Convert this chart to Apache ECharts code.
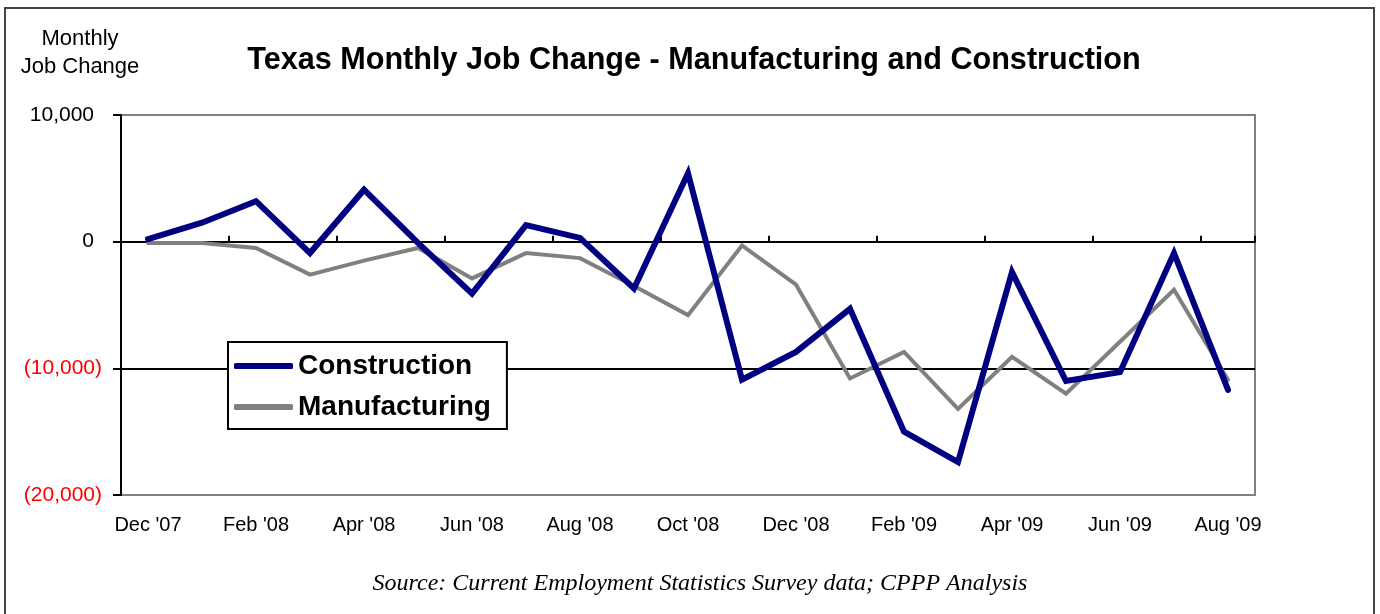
<!DOCTYPE html>
<html>
<head>
<meta charset="utf-8">
<script src="https://cdn.jsdelivr.net/npm/echarts@6/dist/echarts.min.js"></script>
<style>
  html, body { margin: 0; padding: 0; background: #fff; }
  #chart { width: 1380px; height: 614px; }
</style>
</head>
<body>
<div id="chart"></div>
<script>
// Monthly job change in Texas, Dec 2007 - Aug 2009
const months = ["Dec '07", "Jan '08", "Feb '08", "Mar '08", "Apr '08", "May '08", "Jun '08",
  "Jul '08", "Aug '08", "Sep '08", "Oct '08", "Nov '08", "Dec '08", "Jan '09", "Feb '09",
  "Mar '09", "Apr '09", "May '09", "Jun '09", "Jul '09", "Aug '09"];
const construction = [200, 1500, 3200, -900, 4100, -100, -4100, 1300, 300, -3700, 5400,
  -10900, -8700, -5300, -15000, -17400, -2400, -11000, -10300, -900, -11700];
const manufacturing = [-100, -100, -500, -2600, -1500, -500, -2900, -900, -1300, -3500, -5800,
  -300, -3400, -10800, -8700, -13200, -9100, -12000, -7900, -3800, -10900];
const yTicks = { min: -20000, max: 10000, step: 10000 };

const FONT = 'Liberation Sans, Arial, sans-serif';

function fmtThousands(v) {
  const s = Math.abs(v).toString().replace(/\B(?=(\d{3})+(?!\d))/g, ',');
  return v < 0 ? '{neg|(' + s + ')}' : '{pos|' + s + '}';
}

const chart = echarts.init(document.getElementById('chart'), null, { renderer: 'canvas' });

chart.setOption({
  backgroundColor: '#ffffff',
  animation: false,
  title: [
    {
      text: 'Texas Monthly Job Change - Manufacturing and Construction',
      left: 689, top: 40, textAlign: 'center',
      textStyle: { fontFamily: FONT, fontSize: 30.6, fontWeight: 'bold', color: '#000' }
    },
    {
      text: 'Source: Current Employment Statistics Survey data; CPPP Analysis',
      left: 695, top: 567, textAlign: 'center',
      textStyle: { fontFamily: 'Liberation Serif, serif', fontSize: 24, fontStyle: 'italic',
        fontWeight: 'normal', color: '#000' }
    }
  ],
  graphic: [
    {
      type: 'rect', silent: true, z: -1,
      shape: { x: 5, y: 8, width: 1369, height: 640 },
      style: { fill: null, stroke: '#444', lineWidth: 2 }
    },
    {
      type: 'text', x: 80, y: 25, silent: true,
      style: {
        text: 'Monthly\nJob Change', align: 'center', verticalAlign: 'top',
        font: '22px ' + FONT, lineHeight: 28, fill: '#000'
      }
    }
  ],
  legend: {
    orient: 'vertical',
    left: 228, top: 342,
    padding: [10, 16, 8, 6],
    itemGap: 13,
    itemWidth: 59, itemHeight: 6,
    icon: 'roundRect',
    backgroundColor: '#fff',
    borderColor: '#000', borderWidth: 2,
    textStyle: { fontFamily: FONT, fontSize: 28, fontWeight: 'bold', color: '#000' },
    data: ['Construction', 'Manufacturing']
  },
  grid: {
    left: 121, right: 125, top: 115, bottom: 119,
    show: true, borderColor: '#808080', borderWidth: 2, backgroundColor: '#fff'
  },
  xAxis: [
    {
      type: 'category', data: months, position: 'bottom', boundaryGap: true,
      axisLine: { show: false, onZero: false },
      axisTick: { show: false },
      axisLabel: { interval: 1, margin: 20, fontFamily: FONT, fontSize: 20, color: '#000' },
      splitLine: { show: false }
    },
    {
      type: 'category', data: months, position: 'top', boundaryGap: true,
      axisLine: { show: true, onZero: true, lineStyle: { color: '#000', width: 2 } },
      axisTick: { show: true, interval: 1, inside: false, length: 6,
        lineStyle: { color: '#000', width: 2 } },
      axisLabel: { show: false },
      splitLine: { show: false }
    }
  ],
  yAxis: {
    type: 'value', min: yTicks.min, max: yTicks.max, interval: yTicks.step,
    axisLine: { show: true, onZero: false, lineStyle: { color: '#000', width: 2 } },
    axisTick: { show: true, length: 8, lineStyle: { color: '#000', width: 2 } },
    axisLabel: {
      margin: 19, fontFamily: FONT, fontSize: 21,
      formatter: fmtThousands,
      rich: {
        pos: { color: '#000', fontFamily: FONT, fontSize: 21, padding: [0, 8, 0, 0] },
        neg: { color: '#ff0000', fontFamily: FONT, fontSize: 21 }
      }
    },
    splitLine: { show: true, showMinLine: false, showMaxLine: false,
      lineStyle: { color: '#000', width: 2 } }
  },
  series: [
    {
      name: 'Construction', type: 'line', data: construction,
      xAxisIndex: 0, symbol: 'none', z: 3,
      itemStyle: { color: '#000080' },
      lineStyle: { color: '#000080', width: 6, join: 'miter', cap: 'round' }
    },
    {
      name: 'Manufacturing', type: 'line', data: manufacturing,
      xAxisIndex: 0, symbol: 'none', z: 2,
      itemStyle: { color: '#808080' },
      lineStyle: { color: '#808080', width: 4, join: 'miter', cap: 'round' }
    }
  ]
});
</script>
</body>
</html>
